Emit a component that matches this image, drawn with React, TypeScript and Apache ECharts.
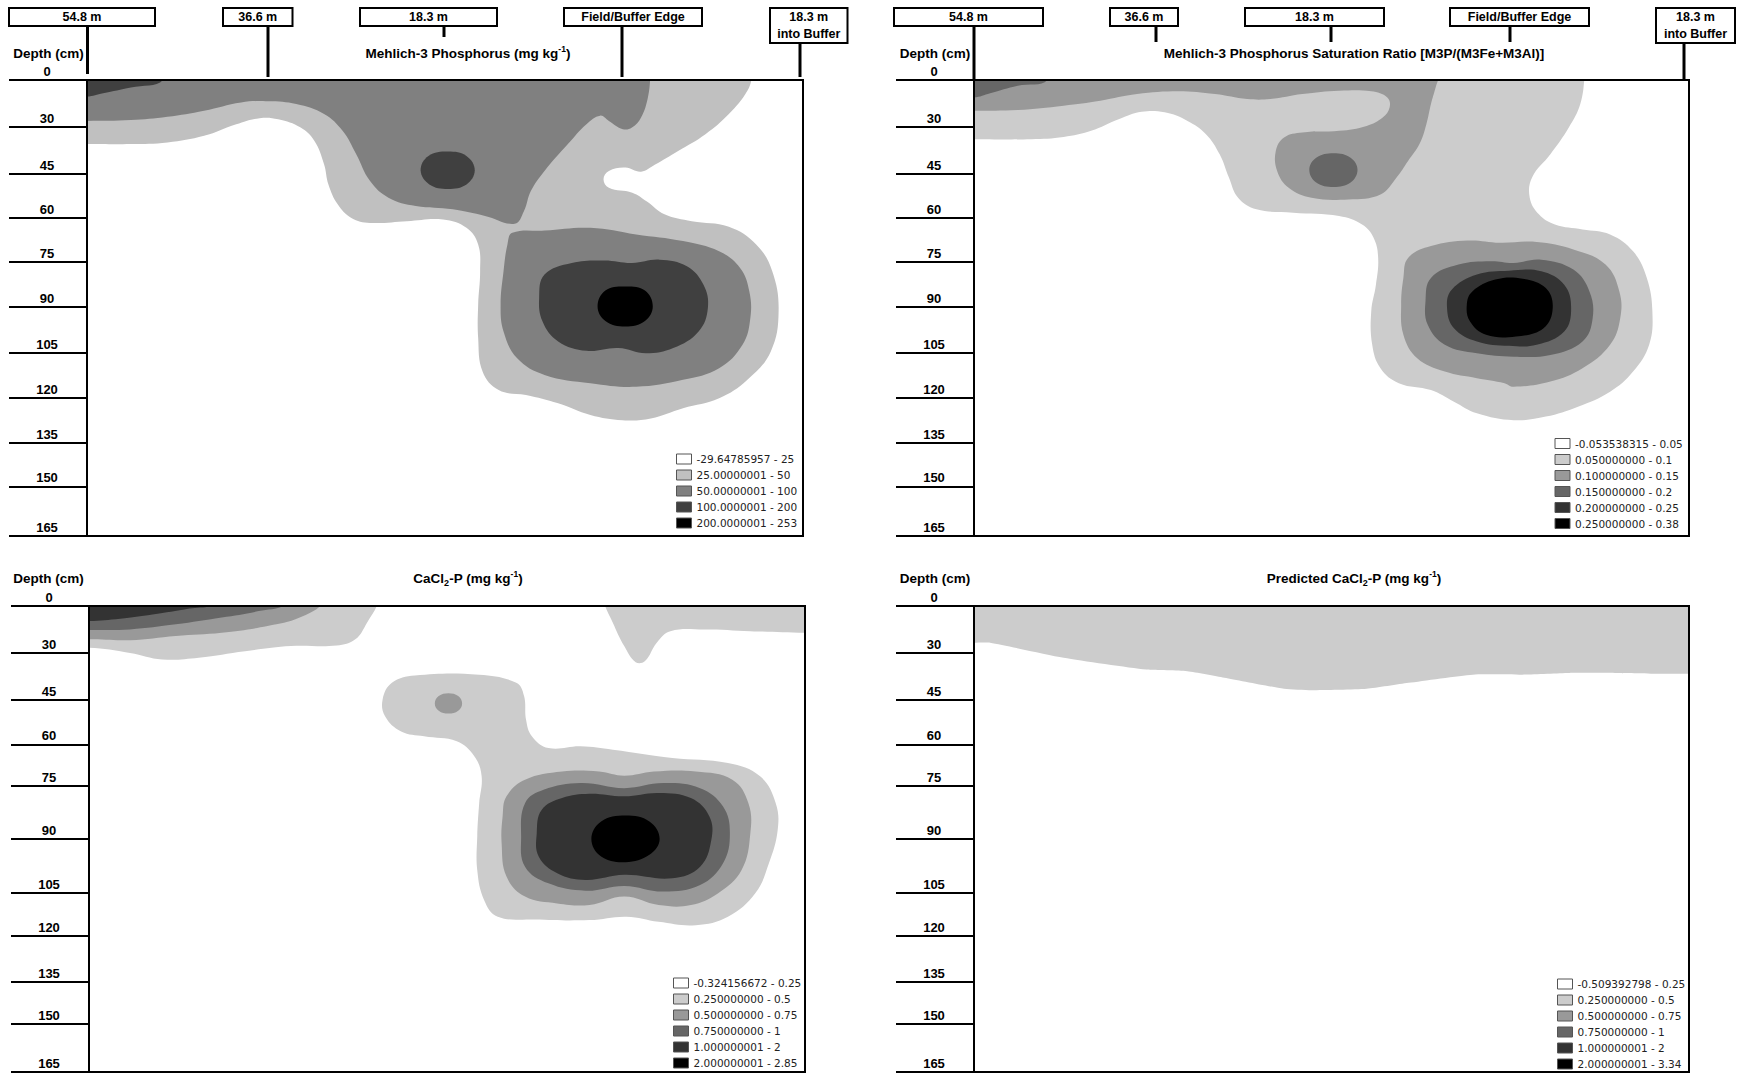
import { useEffect, useRef } from 'react';
import * as echarts from 'echarts';

// ---------- axes ----------
const X_MIN = -54.8; // m from field/buffer edge (negative = into field)
const X_MAX = 18.6;
const DEPTH_MAX = 165;
const DEPTH_LABELS = ['0', '30', '45', '60', '75', '90', '105', '120', '135', '150', '165'];
const DEPTH_TICKS_TOP = [0, 17.0, 34.0, 49.9, 65.9, 82.2, 98.8, 115.1, 131.4, 147.0, 165];
const DEPTH_TICKS_BOTTOM = [0, 16.5, 33.3, 49.0, 63.6, 82.4, 101.6, 116.9, 133.0, 147.9, 165];
const MARKER_LABELS = ['54.8 m', '36.6 m', '18.3 m', 'Field/Buffer Edge', '18.3 m\ninto Buffer'];

// ---------- class labels ----------
const M3P_CLASSES = ['-29.64785957 - 25', '25.00000001 - 50', '50.00000001 - 100', '100.0000001 - 200', '200.0000001 - 253'];
const PSR_CLASSES = ['-0.053538315 - 0.05', '0.050000000 - 0.1', '0.100000000 - 0.15', '0.150000000 - 0.2', '0.200000000 - 0.25', '0.250000000 - 0.38'];
const CAP_CLASSES = ['-0.324156672 - 0.25', '0.250000000 - 0.5', '0.500000000 - 0.75', '0.750000000 - 1', '1.000000001 - 2', '2.000000001 - 2.85'];
const PRED_CLASSES = ['-0.509392798 - 0.25', '0.250000000 - 0.5', '0.500000000 - 0.75', '0.750000000 - 1', '1.000000001 - 2', '2.000000001 - 3.34'];

const GRAYS5 = ['#ffffff', '#c0c0c0', '#808080', '#404040', '#000000'];
const GRAYS6 = ['#ffffff', '#cccccc', '#999999', '#666666', '#333333', '#000000'];

// ---------- contour regions [distance m, depth cm] ----------
// Mehlich-3 P
const M3P_L1 = [[
  [-62, -10], [13.6, -10], [13.4, -2], [12.9, 3.9], [11.0, 12.3], [8.6, 19.6], [5.8, 25.7], [3.4, 30.7], [2.0, 33.2],
  [0.4, 31.7], [-1.3, 32.9], [-1.85, 35.9], [-1.3, 39.0], [1.1, 40.8], [2.6, 44.0], [4.4, 48.6], [7.2, 51.1],
  [11.0, 53.1], [13.8, 59.5], [15.45, 69.2], [16.1, 83.7], [15.3, 98.2], [12.9, 108.5], [10.0, 115.2], [6.3, 118.8],
  [3.0, 122.5], [0.1, 123.1], [-3.2, 121.2], [-6.5, 117.0], [-9.8, 114.0], [-12.6, 112.2], [-14.25, 105.5],
  [-14.7, 93.4], [-14.7, 81.3], [-14.5, 69.2], [-14.7, 59.5], [-15.9, 53.5], [-18.3, 50.5], [-22.0, 51.1],
  [-25.8, 51.7], [-27.7, 49.9], [-29.1, 45.0], [-30.05, 37.8], [-30.5, 30.5], [-31.5, 22.0], [-32.9, 17.2],
  [-35.2, 14.2], [-37.1, 13.8], [-39.5, 16.0], [-42.8, 20.2], [-46.55, 22.6], [-50.3, 23.2], [-54.8, 23.2], [-62, 23.2],
]];
const M3P_L2 = [
  [
    [-62, -10], [3.0, -10], [2.96, -2], [2.7, 6.3], [2.0, 13.6], [1.07, 17.2], [0.13, 17.8], [-1.3, 14.8], [-2.2, 12.9],
    [-3.6, 16.0], [-5.5, 23.2], [-7.9, 32.9], [-9.3, 40.2], [-10.0, 47.4], [-10.95, 52.0], [-14.0, 49.2], [-17.3, 46.8],
    [-21.1, 45.6], [-23.9, 42.6], [-25.8, 36.5], [-27.2, 26.9], [-28.6, 18.4], [-30.5, 12.3], [-33.35, 8.7],
    [-36.2, 7.7], [-39.0, 8.1], [-42.8, 11.1], [-46.55, 13.3], [-50.3, 14.5], [-54.8, 14.8], [-62, 14.8],
  ],
  [
    [-11.2, 55.3], [-7.9, 54.5], [-3.2, 53.5], [1.5, 55.9], [6.3, 58.3], [10.0, 62.0], [12.15, 68.0], [13.1, 76.5],
    [13.2, 86.2], [12.4, 95.8], [10.0, 104.3], [6.3, 108.5], [1.5, 111.0], [-3.2, 109.7], [-7.9, 106.7],
    [-10.7, 100.7], [-12.1, 91.0], [-12.4, 81.3], [-12.1, 69.2], [-11.7, 59.5],
  ],
];
const M3P_L3 = [
  [[-62, -10], [-46.8, -10], [-47.0, 0], [-50.3, 2.7], [-53.15, 4.8], [-54.8, 6.0], [-62, 6.5]],
  [[-17.8, 25.9], [-15.9, 27.5], [-15.05, 32.7], [-15.9, 37.8], [-17.8, 39.4], [-19.7, 37.8], [-20.6, 32.7], [-19.8, 27.5]],
  [
    [-7.9, 70.4], [-5.1, 66.2], [-1.76, 65.3], [1.07, 66.2], [3.9, 65.0], [6.7, 67.4], [8.4, 74.1], [8.85, 82.5],
    [7.9, 91.0], [5.3, 97.0], [2.5, 98.9], [-0.34, 97.0], [-3.6, 98.0], [-6.5, 94.6], [-8.1, 87.4], [-8.45, 78.9],
  ],
];
const M3P_L4 = [[[0.37, 74.7], [2.4, 76.2], [3.2, 81.9], [2.4, 87.2], [0.37, 89.2], [-1.66, 87.2], [-2.46, 81.9], [-1.66, 76.2]]];

// Mehlich-3 P saturation ratio
const PSR_L1 = [[
  [-62, -10], [8.0, -10], [7.9, -2], [7.44, 8.7], [6.26, 17.2], [4.37, 26.9], [2.49, 35.3], [2.25, 42.6], [3.19, 48.6],
  [4.84, 52.3], [7.67, 54.1], [10.5, 55.9], [12.86, 62.0], [14.27, 71.6], [14.84, 83.7], [14.51, 95.8], [12.86, 105.5],
  [10.5, 112.8], [7.2, 118.2], [3.9, 121.8], [0.6, 123.1], [-3.17, 120.6], [-5.53, 116.4], [-7.89, 112.2],
  [-11.19, 109.7], [-13.07, 104.3], [-13.92, 95.8], [-14.02, 83.7], [-13.54, 74.1], [-13.31, 64.4], [-13.78, 57.1],
  [-14.96, 52.3], [-17.32, 49.2], [-22.03, 48.0], [-25.8, 46.8], [-27.69, 42.6], [-28.63, 35.3], [-29.58, 26.9],
  [-30.99, 19.6], [-32.88, 14.8], [-35.23, 11.7], [-37.59, 11.5], [-39.95, 14.2], [-42.78, 18.4], [-45.6, 20.6],
  [-48.9, 21.4], [-54.8, 21.4], [-62, 21.4],
]];
const PSR_L2 = [
  [
    [-62, -10], [-7.0, -10], [-7.04, -2], [-7.41, 2.7], [-7.89, 8.7], [-8.36, 16.0], [-9.07, 23.2], [-10.24, 29.3],
    [-11.42, 35.3], [-13.07, 41.4], [-16.37, 43.2], [-20.15, 42.6], [-22.5, 39.0], [-23.68, 32.9], [-23.82, 25.7],
    [-22.97, 20.8], [-21.09, 19.0], [-17.32, 18.4], [-14.49, 16.6], [-12.84, 13.6], [-12.13, 9.9], [-12.37, 6.3],
    [-14.02, 4.1], [-17.32, 3.9], [-21.09, 5.1], [-24.39, 6.9], [-26.75, 6.9], [-30.05, 5.1], [-33.82, 4.1],
    [-38.06, 5.1], [-41.83, 7.5], [-45.6, 9.3], [-50.32, 10.9], [-54.8, 11.1], [-62, 11.1],
  ],
  [
    [-10.24, 64.4], [-7.89, 60.1], [-4.11, 58.1], [-0.81, 58.9], [2.96, 58.6], [6.73, 61.3], [10.03, 66.8],
    [11.45, 76.5], [11.54, 86.2], [10.5, 95.8], [7.67, 104.3], [4.37, 109.1], [0.6, 111.0], [-0.34, 109.7],
    [-3.17, 107.9], [-6.47, 105.5], [-9.3, 100.7], [-10.72, 92.2], [-10.95, 81.3], [-10.72, 71.6],
  ],
];
const PSR_L3 = [
  [[-62, -10], [-47.0, -10], [-47.26, 0], [-50.32, 2.1], [-53.15, 4.8], [-54.8, 6.3], [-62, 6.5]],
  [[-17.88, 26.5], [-16.14, 28.1], [-15.43, 32.5], [-16.14, 37.1], [-17.88, 38.7], [-19.67, 37.1], [-20.38, 32.5], [-19.67, 28.1]],
  [
    [-7.89, 71.6], [-5.06, 66.8], [-1.76, 65.6], [0.6, 66.2], [3.43, 65.0], [6.73, 68.6], [8.38, 76.5], [8.71, 86.2],
    [7.67, 94.6], [4.37, 99.5], [0.6, 100.1], [-3.17, 98.9], [-6.47, 95.8], [-8.22, 88.6], [-8.45, 80.1],
  ],
];
const PSR_L4 = [[
  [-5.76, 75.9], [-3.17, 70.4], [0.13, 69.0], [3.43, 69.2], [5.79, 74.1], [6.5, 82.5], [5.79, 91.0], [2.96, 95.8],
  [0.13, 96.2], [-3.17, 94.6], [-5.53, 89.8], [-6.24, 82.5],
]];
const PSR_L5 = [[
  [-3.64, 76.5], [-1.29, 72.2], [1.54, 71.9], [3.9, 75.3], [4.61, 82.5], [3.67, 89.8], [0.84, 92.8], [-2.23, 92.2],
  [-3.88, 87.4], [-4.21, 81.3],
]];

// CaCl2-P
const CAP_L1 = [
  [
    [-62, -10], [-25.0, -10], [-25.1, -2], [-26.3, 5.9], [-27.5, 11.8], [-29.4, 14.0], [-34.1, 14.2], [-38.8, 16.0],
    [-43.55, 18.3], [-47.3, 18.9], [-50.6, 16.6], [-54.8, 14.8], [-62, 14.8],
  ],
  [
    [-2.2, -10], [-2.06, -2], [-1.1, 5.9], [0.07, 14.2], [1.24, 19.9], [2.2, 19.5], [3.4, 13.0], [4.8, 8.9], [8.3, 8.3],
    [13.0, 8.9], [18.6, 9.5], [24, 9.5], [24, -10],
  ],
  [
    [-24.7, 33.1], [-23.75, 27.2], [-21.4, 24.6], [-14.8, 24.3], [-11.0, 27.2], [-10.2, 31.9], [-10.0, 40.2],
    [-9.4, 46.1], [-7.7, 50.3], [-4.4, 49.7], [-1.1, 50.9], [5.0, 53.8], [10.7, 55.6], [14.0, 60.3], [15.6, 69.8],
    [15.8, 79.3], [14.9, 91.1], [13.5, 101.7], [10.7, 110.0], [7.4, 113.0], [3.6, 111.8], [0.3, 110.0], [-3.5, 111.2],
    [-9.1, 111.0], [-12.9, 110.0], [-14.3, 104.1], [-15.0, 93.5], [-15.0, 81.6], [-14.8, 69.8], [-14.55, 60.3],
    [-15.3, 53.2], [-17.1, 47.9], [-20.45, 46.1], [-22.8, 44.4], [-24.45, 39.0],
  ],
];
const CAP_L2 = [
  [[-62, -10], [-30.6, -10], [-30.6, -2], [-33.2, 4.1], [-36.5, 7.1], [-41.2, 9.5], [-45.9, 10.6], [-50.6, 12.1], [-54.8, 11.8], [-62, 11.8]],
  [[-17.95, 30.9], [-16.95, 31.9], [-16.55, 34.5], [-16.95, 37.1], [-17.95, 38.1], [-18.95, 37.1], [-19.35, 34.5], [-18.95, 31.9]],
  [
    [-12.0, 67.4], [-10.1, 61.5], [-6.3, 58.6], [-2.5, 58.6], [0.07, 60.1], [3.1, 58.6], [7.4, 58.6], [11.15, 61.5],
    [12.8, 69.8], [13.0, 80.4], [12.1, 93.5], [9.7, 101.7], [6.9, 105.9], [3.6, 105.9], [0.07, 102.9], [-3.5, 105.9],
    [-6.8, 105.3], [-10.1, 102.9], [-12.0, 95.8], [-12.5, 84.0], [-12.4, 74.5],
  ],
];
const CAP_L3 = [
  [[-62, -10], [-34.6, -10], [-34.6, -1], [-37.4, 1.8], [-41.2, 4.1], [-45.9, 6.5], [-50.6, 8.3], [-54.8, 8.5], [-62, 8.5]],
  [
    [-10.1, 69.8], [-8.2, 65.1], [-4.4, 62.7], [0.07, 64.5], [4.1, 62.7], [7.85, 64.5], [10.2, 71.0], [10.9, 80.4],
    [10.2, 91.1], [7.85, 98.8], [4.1, 101.1], [0.07, 99.1], [-3.9, 100.8], [-7.7, 98.2], [-10.1, 92.3], [-10.5, 81.6],
  ],
];
const CAP_L4 = [
  [[-62, -10], [-42.1, -10], [-42.1, -1], [-44.5, 0.9], [-48.3, 3.0], [-51.6, 4.5], [-54.8, 5.3], [-62, 5.3]],
  [
    [-8.4, 72.2], [-6.3, 68.0], [-3.5, 66.5], [0.07, 67.4], [3.6, 66.2], [6.9, 68.0], [8.8, 74.5], [9.0, 82.8],
    [7.85, 92.3], [5.0, 96.4], [0.07, 95.2], [-3.9, 97.0], [-6.8, 94.6], [-8.7, 88.7], [-8.9, 80.4],
  ],
];
const CAP_L5 = [[[0.2, 74.2], [2.65, 76.3], [3.7, 82.5], [2.65, 88.1], [0.2, 90.7], [-2.3, 88.7], [-3.3, 82.5], [-2.3, 76.3]]];

// Predicted CaCl2-P
const PRED_L1 = [[
  [-62, -10], [24, -10], [24, 24.0], [18.5, 24.0], [15.7, 24.0], [11.0, 23.7], [6.3, 23.7], [1.5, 24.3], [-3.6, 24.3],
  [-10.2, 27.2], [-14.5, 29.3], [-20.15, 29.8], [-22.97, 29.3], [-29.1, 25.4], [-32.9, 23.1], [-37.1, 22.5],
  [-45.6, 18.3], [-53.15, 13.0], [-54.8, 13.0], [-62, 13.0],
]];

// ---------- layout ----------
const FONT = '"Liberation Sans", Arial, sans-serif';
const LEGEND_FONT = '"DejaVu Sans", Verdana, sans-serif';

const PANELS = [
  {
    grid: { left: 87, top: 80, width: 716, height: 456 },
    ticks: DEPTH_TICKS_TOP, names: M3P_CLASSES, colors: GRAYS5,
    levels: [[], M3P_L1, M3P_L2, M3P_L3, M3P_L4], smooth: 0.4,
    legend: { left: 676, top: 453.5 },
    title: 'Mehlich-3 Phosphorus (mg kg{sup|-1})', titleX: 468, titleY: 53, depthX: 48.5,
  },
  {
    grid: { left: 974, top: 80, width: 715, height: 456 },
    ticks: DEPTH_TICKS_TOP, names: PSR_CLASSES, colors: GRAYS6,
    levels: [[], PSR_L1, PSR_L2, PSR_L3, PSR_L4, PSR_L5], smooth: 0.4,
    legend: { left: 1554.5, top: 438 },
    title: 'Mehlich-3 Phosphorus Saturation Ratio [M3P/(M3Fe+M3Al)]', titleX: 1354, titleY: 53, depthX: 935,
  },
  {
    grid: { left: 89, top: 606, width: 716, height: 466 },
    ticks: DEPTH_TICKS_BOTTOM, names: CAP_CLASSES, colors: GRAYS6,
    levels: [[], CAP_L1, CAP_L2, CAP_L3, CAP_L4, CAP_L5], smooth: 0.4,
    legend: { left: 673, top: 977.5 },
    title: 'CaCl{sub|2}-P (mg kg{sup|-1})', titleX: 468, titleY: 578, depthX: 48.5,
  },
  {
    grid: { left: 974, top: 606, width: 715, height: 466 },
    ticks: DEPTH_TICKS_BOTTOM, names: PRED_CLASSES, colors: GRAYS6,
    levels: [[], PRED_L1, [], [], [], []], smooth: 0.2,
    legend: { left: 1557, top: 978.5 },
    title: 'Predicted CaCl{sub|2}-P (mg kg{sup|-1})', titleX: 1354, titleY: 578, depthX: 935,
  },
];

// header marker boxes (pixel layout of the annotation boxes above the top panels)
const HEADER_BOXES = [
  [[9, 155], [223, 292.5], [360, 497], [564, 702], [770, 847.5]],
  [[894, 1043], [1110, 1178], [1245, 1384], [1450, 1589], [1656, 1735]],
];
const HEADER_LINES = [
  [[87.5, 74], [268, 77], [444, 37], [622, 77], [800, 77]],
  [[974, 79], [1156, 42], [1331, 42], [1510, 42], [1684, 79]],
];

function nearestIndex(arr: number[], v: number) {
  let best = 0;
  for (let i = 1; i < arr.length; i++) if (Math.abs(arr[i] - v) < Math.abs(arr[best] - v)) best = i;
  return best;
}

function buildOption() {
  const series: any[] = [];
  PANELS.forEach((p, pi) => {
    p.names.forEach((name, li) => {
      const polys: number[][][] = (p.levels[li] || []) as any;
      const color = p.colors[li];
      series.push({
        type: 'custom',
        name,
        xAxisIndex: pi,
        yAxisIndex: pi,
        clip: true,
        silent: true,
        z: 2 + li,
        itemStyle: { color },
        data: polys.map((poly, k) => [poly[0][0], poly[0][1], k]),
        renderItem: (params: any, api: any) => {
          const poly = polys[params.dataIndex];
          return {
            type: 'polygon',
            shape: { points: poly.map((pt) => api.coord(pt)), smooth: p.smooth },
            style: { fill: color, stroke: null },
          };
        },
      });
    });
  });

  const graphic: any[] = [];
  const supRich = {
    sup: { fontSize: 8.5, fontWeight: 'bold', fontFamily: FONT, verticalAlign: 'top', lineHeight: 9, fill: '#000' },
    sub: { fontSize: 9, fontWeight: 'bold', fontFamily: FONT, verticalAlign: 'bottom', lineHeight: 9, fill: '#000' },
  };
  PANELS.forEach((p) => {
    graphic.push({
      type: 'text', x: p.titleX, y: p.titleY, z: 20,
      style: {
        text: p.title, rich: supRich, fontSize: 13.5, fontWeight: 'bold', fontFamily: FONT, fill: '#000',
        align: 'center', verticalAlign: 'middle', lineHeight: 18,
      },
    });
    graphic.push({
      type: 'text', x: p.depthX, y: p.titleY, z: 20,
      style: {
        text: 'Depth (cm)', fontSize: 13.5, fontWeight: 'bold', fontFamily: FONT, fill: '#000',
        align: 'center', verticalAlign: 'middle',
      },
    });
  });
  HEADER_BOXES.forEach((boxes, hi) => {
    boxes.forEach(([x0, x1], bi) => {
      const two = MARKER_LABELS[bi].includes('\n');
      const h = two ? 35 : 18;
      graphic.push({
        type: 'rect', z: 20,
        shape: { x: x0, y: 8, width: x1 - x0, height: h },
        style: { fill: '#fff', stroke: '#000', lineWidth: 2 },
      });
      graphic.push({
        type: 'text', z: 21, x: (x0 + x1) / 2, y: 8 + h / 2,
        style: {
          text: MARKER_LABELS[bi], fontSize: 12.5, fontWeight: 'bold', fontFamily: FONT, fill: '#000',
          align: 'center', verticalAlign: 'middle', lineHeight: 17,
        },
      });
      const [lx, ly] = HEADER_LINES[hi][bi];
      graphic.push({
        type: 'line', z: 20,
        shape: { x1: lx, y1: 8 + h, x2: lx, y2: ly },
        style: { stroke: '#000', lineWidth: 3 },
      });
    });
  });

  return {
    animation: false,
    backgroundColor: '#fff',
    grid: PANELS.map((p) => ({
      ...p.grid, show: true, borderColor: '#000', borderWidth: 2,
      backgroundColor: 'rgba(0,0,0,0)', z: 10,
    })),
    xAxis: PANELS.map((_, i) => ({ type: 'value', gridIndex: i, min: X_MIN, max: X_MAX, show: false })),
    yAxis: PANELS.map((p, i) => ({
      type: 'value', gridIndex: i, inverse: true, min: 0, max: DEPTH_MAX, position: 'left',
      axisLine: { show: false, onZero: false },
      splitLine: { show: false },
      axisTick: { show: true, customValues: p.ticks, length: 78, lineStyle: { color: '#000', width: 2 } },
      axisLabel: {
        show: true, customValues: p.ticks,
        formatter: (v: number) => DEPTH_LABELS[nearestIndex(p.ticks, v)],
        margin: 40, align: 'center', verticalAlign: 'bottom', padding: [0, 0, 2, 0],
        fontSize: 13, fontWeight: 'bold', fontFamily: FONT, color: '#000',
        showMinLabel: true, showMaxLabel: true,
      },
    })),
    legend: PANELS.map((p) => ({
      orient: 'vertical', left: p.legend.left, top: p.legend.top, padding: 0,
      itemWidth: 15, itemHeight: 10, itemGap: 5, selectedMode: false, icon: 'rect',
      data: p.names, z: 15,
      itemStyle: { borderColor: '#555', borderWidth: 1 },
      textStyle: { fontFamily: LEGEND_FONT, fontSize: 10.5, color: '#222', lineHeight: 10 },
    })),
    graphic,
    series,
  };
}

export default function App() {
  const ref = useRef<HTMLDivElement>(null);
  useEffect(() => {
    const chart = echarts.init(ref.current!, null, { renderer: 'svg' });
    chart.setOption(buildOption() as any);
    return () => chart.dispose();
  }, []);
  return (
    <div
      ref={ref}
      style={{ position: 'fixed', left: 0, top: 0, width: 1737, height: 1075, background: '#fff' }}
    />
  );
}
